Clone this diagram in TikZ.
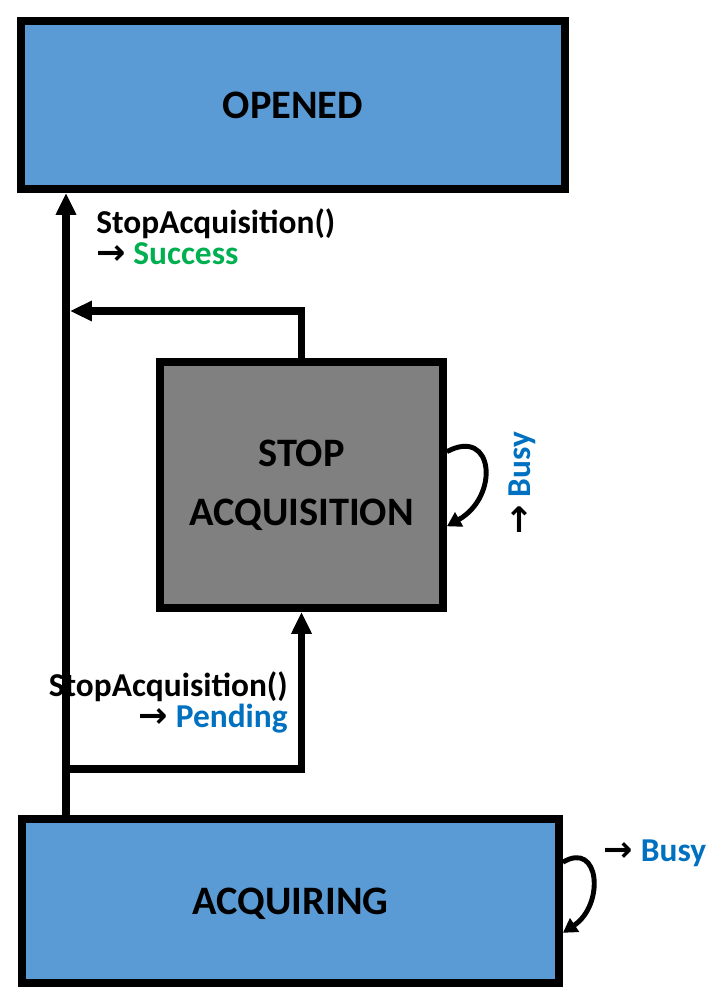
\documentclass[tikz,border=0pt]{standalone}
\usepackage{fontspec}
\setmainfont{Carlito}
\newfontfamily\arrowfont{DejaVu Sans}
\usetikzlibrary{arrows.meta,positioning}
\definecolor{boxblue}{HTML}{5B9BD5}
\definecolor{boxgray}{HTML}{808080}
\definecolor{msgblue}{HTML}{0070C0}
\definecolor{msggreen}{HTML}{00B050}
\newcommand{\toarrow}{{\arrowfont\bfseries\fontsize{20}{17.6}\selectfont →}\ }

\tikzset{
  state/.style={draw=black, line width=4.5pt, align=center, inner sep=0pt,
    font=\bfseries\fontsize{23}{33.5}\selectfont},
  conn/.style={line width=4pt, -{Triangle[length=12.5pt,width=11pt]}},
  selfloop/.style={line width=2.8pt, -{Triangle[length=8pt,width=9pt]}},
  msg/.style={inner sep=0pt, font=\bfseries\fontsize{19}{17.6}\selectfont},
}

\begin{document}
\begin{tikzpicture}[x=0.02cm,y=-0.02cm]
  \useasboundingbox (0,0) rectangle (726,1000);
  \node [state, fill=boxblue, minimum width=10.88cm, minimum height=3.36cm] (opened) at (293,105) {OPENED};
  \node [state, fill=boxgray, minimum width=5.66cm, minimum height=4.92cm] (stop) at (301.5,485) {STOP\\ACQUISITION};
  \node [state, fill=boxblue, minimum width=10.74cm, minimum height=3.28cm, text depth=0pt] (acq) at (290.5,901) {ACQUIRING};

  \coordinate (lft) at (66,0);
  \coordinate (merge) at (70,311);
  \coordinate (fork) at (62,769);
  \draw [conn] (acq.north -| lft) -- (opened.south -| lft);
  \draw [conn] (stop.north) |- (merge);
  \draw [conn] (fork) -| (stop.south);

  \draw [selfloop] ([yshift=19pt]stop.east) .. controls +(47,-25) and +(53,-30) .. ([yshift=-23.5pt]stop.east);
  \draw [selfloop] ([yshift=22.1pt]acq.east) .. controls +(37,-22) and +(42,-28) .. ([yshift=-18.1pt]acq.east);

  \node [msg, anchor=west, align=left] (success) at (96,237) {StopAcquisition()\\\toarrow\textcolor{msggreen}{Success}};
  \node [msg, anchor=east, align=right] (pending) at (288,702) {StopAcquisition()\\\toarrow\textcolor{msgblue}{Pending}};
  \node [msg, rotate=90] (busystop) at (522,483) {\toarrow\textcolor{msgblue}{Busy}};
  \node [msg] (busyacq) at (655,853) {\toarrow\textcolor{msgblue}{Busy}};
\end{tikzpicture}
\end{document}
